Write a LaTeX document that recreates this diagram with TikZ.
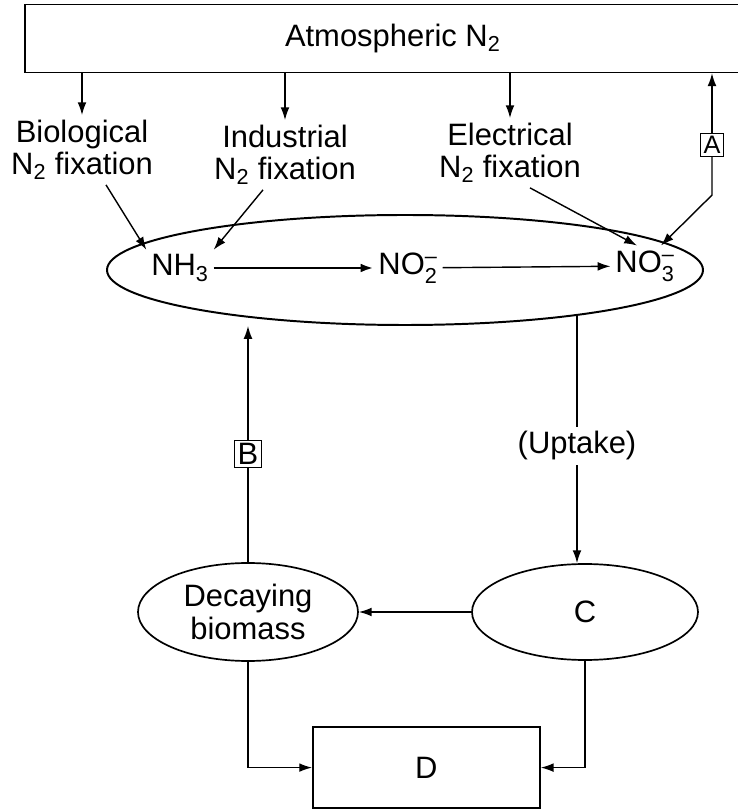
\documentclass[tikz,border=0pt]{standalone}
\usepackage{fontspec}
\usepackage{amsmath}
\setmainfont{Liberation Sans}
\usetikzlibrary{shapes.geometric,arrows.meta}

\begin{document}
\begin{tikzpicture}[
  link/.style={line width=1pt},
  arr/.style={link, -{Latex[length=3.2mm,width=2.2mm]}},
  txt/.style={align=center, font=\fontsize{22}{23}\selectfont},
  oval/.style={draw, ellipse, line width=1.2pt, inner sep=0pt},
  tag/.style={draw, line width=0.8pt, inner sep=2pt}
]
% Page size (the top box runs off the right edge)
\useasboundingbox (0,0) rectangle (18.45,20.25);
\clip (0,0) rectangle (18.45,20.25);

% Atmosphere and the three fixation routes
\node[draw, line width=1.2pt, minimum width=18.4cm, minimum height=1.7cm, txt] (atm) at (9.82,19.29) {Atmospheric N$_\text{2}$};
\node[txt] (bio) at (2.05,16.5) {Biological\\N$_\text{2}$ fixation};
\node[txt] (ind) at (7.125,16.375) {Industrial\\N$_\text{2}$ fixation};
\node[txt] (elec) at (12.75,16.425) {Electrical\\N$_\text{2}$ fixation};
\draw[arr] (bio.north |- atm.south) -- (bio.north);
\draw[arr] (ind.north |- atm.south) -- (ind.north);
\draw[arr] (elec.north |- atm.south) -- (elec.north);

% Soil pool
\node[oval, minimum width=14.9cm, minimum height=2.75cm, line width=1.4pt] (cycle) at (10.125,13.5) {};
\node[txt] (nh3) at (4.5,13.55) {NH$_\text{3}$};
\node[txt] (no2) at (10.2,13.55) {NO$_\text{2}^\text{--}$};
\node[txt] (no3) at (16.125,13.6) {NO$_\text{3}^\text{--}$};
\draw[arr, line width=1.8pt] (nh3) -- (no2);
\draw[arr] (no2) -- (no3);
\draw[arr] ([xshift=0.6cm]bio.south) -- (nh3.north west);
\draw[arr] ([xshift=-0.55cm]ind.south) -- (nh3.north east);
\draw[arr] ([xshift=0.5cm]elec.south) -- ([xshift=-0.2cm]no3.north);

% Return to the atmosphere
\node[tag, font=\fontsize{18}{18}\selectfont] (A) at (17.8,16.625) {A};
\draw[arr] (A.north) -- (A.north |- atm.south);
\draw[arr] (A.south) -- ++(0,-0.95) -- ([xshift=0.4cm]no3.north);

% Lower cycle
\node[txt] (uptake) at (14.425,9.1) {(Uptake)};
\node[oval, minimum width=5.65cm, minimum height=2.4cm, txt] (cproc) at (14.625,4.95) {C};
\node[oval, minimum width=5.5cm, minimum height=2.45cm, txt] (dec) at (6.2,4.95) {Decaying\\biomass};
\node[draw, line width=1.2pt, minimum width=5.675cm, minimum height=2.025cm, txt] (D) at (10.66,1.06) {D};
\node[tag, txt] (B) at (6.2,8.9) {B};

\draw[link] (uptake.north) -- (uptake.north |- cycle.345);
\draw[arr] (uptake.south) -- (uptake.south |- cproc.north);
\draw[link] (dec.north) -- (B.south);
\draw[arr] (B.north) -- (B.north |- cycle.south);
\draw[arr] (cproc.west) -- (dec.east);
\draw[arr] (dec.south) |- (D.west);
\draw[arr] (cproc.south) |- (D.east);
\end{tikzpicture}
\end{document}
